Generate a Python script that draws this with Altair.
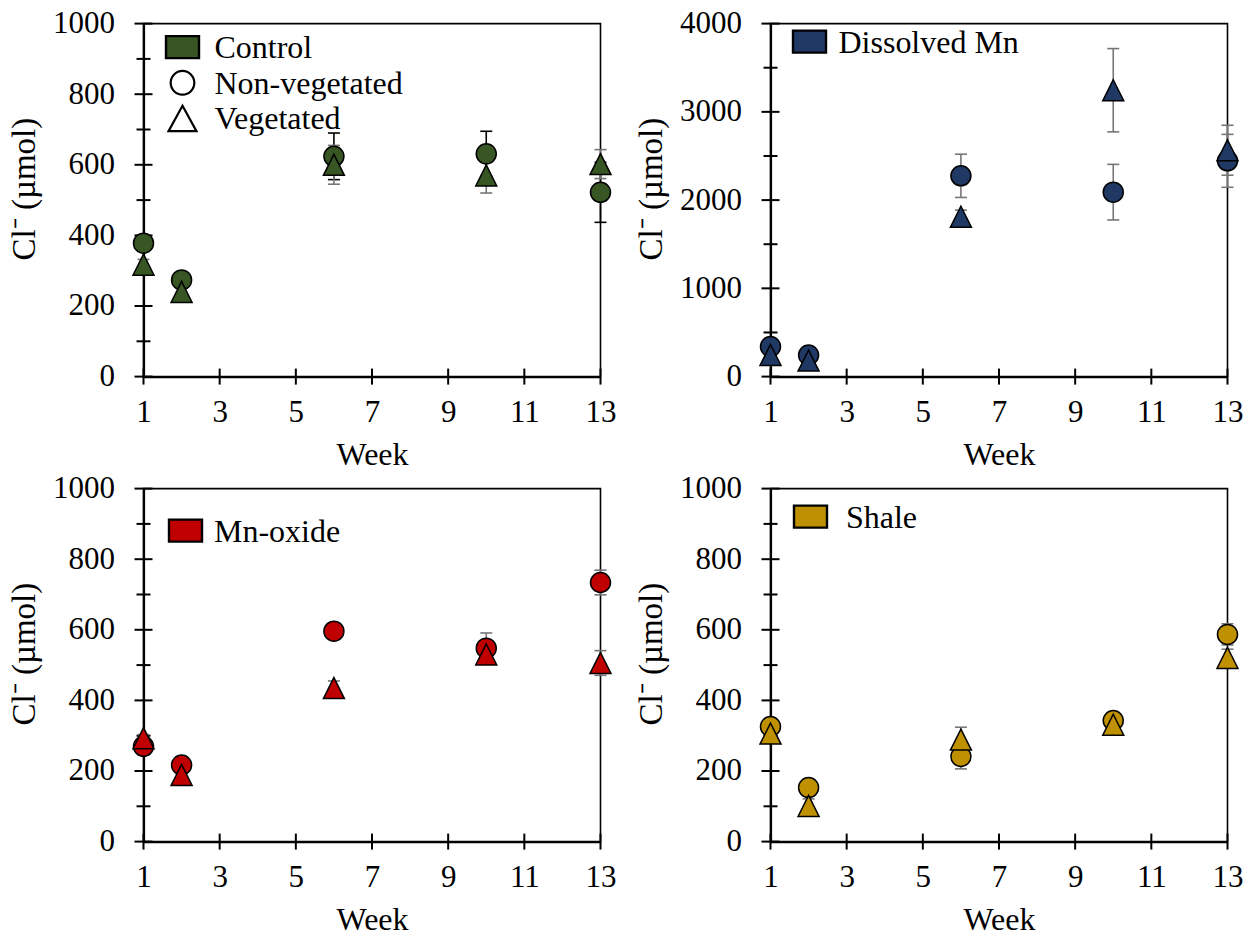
import altair as alt
import pandas as pd

# Sampling weeks
WEEKS = [1, 2, 6, 10, 13]

# Cl- (umol) means and standard deviations per treatment
CONTROL_NONVEG = [378, 274, 624, 631, 522]
CONTROL_NONVEG_SD = [15, 12, 66, 64, 85]
CONTROL_VEG = [317, 240, 600, 570, 602]
CONTROL_VEG_SD = [15, 12, 55, 50, 41]

DISSOLVED_NONVEG = [340, 245, 2275, 2090, 2445]
DISSOLVED_NONVEG_SD = [60, 50, 245, 315, 300]
DISSOLVED_VEG = [245, 181, 1811, 3245, 2565]
DISSOLVED_VEG_SD = [50, 40, 75, 472, 283]

OXIDE_NONVEG = [270, 217, 596, 548, 734]
OXIDE_NONVEG_SD = [10, 10, 12, 43, 35]
OXIDE_VEG = [293, 189, 435, 530, 506]
OXIDE_VEG_SD = [10, 10, 20, 15, 35]

SHALE_NONVEG = [326, 153, 241, 343, 587]
SHALE_NONVEG_SD = [10, 10, 35, 10, 30]
SHALE_VEG = [306, 101, 289, 331, 520]
SHALE_VEG_SD = [10, 20, 35, 10, 25]

# Axis tick values
X_TICKS = [1, 3, 5, 7, 9, 11, 13]
Y_MAJOR_1000 = [0, 200, 400, 600, 800, 1000]
Y_MINOR_1000 = [100, 300, 500, 700, 900]
Y_MAJOR_4000 = [0, 1000, 2000, 3000, 4000]
Y_MINOR_4000 = [500, 1500, 2500, 3500]

# Legend labels
LEGEND_CONTROL = ["Control", "Non-vegetated", "Vegetated"]
LEGEND_DISSOLVED = ["Dissolved Mn"]
LEGEND_OXIDE = ["Mn-oxide"]
LEGEND_SHALE = ["Shale"]

COLORS = {
    "control": "#375623",
    "dissolved": "#1F3864",
    "oxide": "#C00000",
    "shale": "#BF9000",
}

W, H = 457, 353
FONT = "Liberation Serif"
TICK_FS = 31
TEXT_FS = 32
YTITLE_FS = 33
TRIANGLE = "M0,-1L1,1L-1,1Z"
LEG_TRIANGLE = "M0,-1L1.1,1L-1.1,1Z"
LEG_RECT = "M-1.5,-1L1.5,-1L1.5,1L-1.5,1Z"
CAP = "M-1,0L1,0"
GRAY = "#767676"


def make_axes(major):
    x_axis = alt.Axis(
        values=X_TICKS, title="Week", tickSize=0, labelPadding=21,
        labelFlush=False, titlePadding=12, domainWidth=2.2,
        labelFontSize=TICK_FS, titleFontSize=TEXT_FS,
    )
    y_axis = alt.Axis(
        values=major, format="d", title="Cl\u207b (\u00b5mol)", tickSize=0,
        labelPadding=29, titlePadding=11, domainWidth=2.2,
        labelFontSize=TICK_FS, titleFontSize=YTITLE_FS, titleY=165,
    )
    return x_axis, y_axis


def series_layers(values, sds, xs, ys, xa, ya, bar_color):
    df = pd.DataFrame({"week": WEEKS, "v": values, "sd": sds})
    base = alt.Chart(df).transform_calculate(
        lo="datum.v - datum.sd", hi="datum.v + datum.sd"
    )
    bars = base.mark_rule(color=bar_color, strokeWidth=1.6).encode(
        x=alt.X("week:Q", scale=xs, axis=xa),
        y=alt.Y("lo:Q", scale=ys, axis=ya),
        y2="hi:Q",
    )
    caps = base.transform_fold(["lo", "hi"], as_=["end", "ev"]).mark_point(
        shape=CAP, size=144, filled=False, stroke=bar_color, strokeWidth=1.6, opacity=1
    ).encode(
        x=alt.X("week:Q", scale=xs, axis=xa),
        y=alt.Y("ev:Q", scale=ys, axis=ya),
    )
    return df, bars, caps


def legend_layers(labels, kinds, color, sym_x, first_y, step, text_x):
    layers = []
    for i, (label, kind) in enumerate(zip(labels, kinds)):
        y = first_y + i * step
        one = pd.DataFrame({"label": [label]})
        if kind == "rect":
            sym = alt.Chart(one).mark_point(
                shape=LEG_RECT, size=484, filled=True, fill=color,
                stroke="black", strokeWidth=2.4, opacity=1,
            )
        elif kind == "circle":
            sym = alt.Chart(one).mark_point(
                shape="circle", size=560, filled=True, fill="white",
                stroke="black", strokeWidth=2.2, opacity=1,
            )
        else:
            sym = alt.Chart(one).mark_point(
                shape=LEG_TRIANGLE, size=645, filled=True, fill="white",
                stroke="black", strokeWidth=2.2, opacity=1,
            )
        layers.append(sym.encode(x=alt.value(sym_x), y=alt.value(y)))
        layers.append(
            alt.Chart(one)
            .mark_text(align="left", baseline="middle", font=FONT, fontSize=TEXT_FS,
                       color="black")
            .encode(x=alt.value(text_x), y=alt.value(y + 1), text="label:N")
        )
    return layers


def panel(color, nonveg, nonveg_sd, veg, veg_sd, ymax, major, minor,
          legend, nonveg_bar_color=GRAY):
    xs = alt.Scale(domain=[1, 13], nice=False, zero=False)
    ys = alt.Scale(domain=[0, ymax], nice=False, zero=True)
    xa, ya = make_axes(major)

    y_major = alt.Chart(pd.DataFrame({"t": major})).mark_rule(
        color="black", strokeWidth=2
    ).encode(y=alt.Y("t:Q", scale=ys, axis=ya), x=alt.value(-9), x2=alt.value(9))
    y_minor = alt.Chart(pd.DataFrame({"t": minor})).mark_rule(
        color="black", strokeWidth=2
    ).encode(y=alt.Y("t:Q", scale=ys, axis=ya), x=alt.value(-7), x2=alt.value(7))
    x_major = alt.Chart(pd.DataFrame({"t": X_TICKS})).mark_rule(
        color="black", strokeWidth=2
    ).encode(x=alt.X("t:Q", scale=xs, axis=xa), y=alt.value(H - 8), y2=alt.value(H + 8))

    nv_df, nv_bars, nv_caps = series_layers(nonveg, nonveg_sd, xs, ys, xa, ya, nonveg_bar_color)
    vg_df, vg_bars, vg_caps = series_layers(veg, veg_sd, xs, ys, xa, ya, GRAY)

    circles = alt.Chart(nv_df).mark_point(
        shape="circle", size=400, filled=True, fill=color,
        stroke="black", strokeWidth=1.5, opacity=1,
    ).encode(
        x=alt.X("week:Q", scale=xs, axis=xa),
        y=alt.Y("v:Q", scale=ys, axis=ya),
    )
    triangles = alt.Chart(vg_df).mark_point(
        shape=TRIANGLE, size=441, filled=True, fill=color,
        stroke="black", strokeWidth=1.5, opacity=1,
    ).encode(
        x=alt.X("week:Q", scale=xs, axis=xa),
        y=alt.Y("v:Q", scale=ys, axis=ya),
    )

    layers = [y_major, y_minor, x_major, nv_bars, nv_caps, vg_bars, vg_caps,
              circles, triangles] + legend
    return alt.layer(*layers).properties(width=W, height=H)


p1 = panel(
    COLORS["control"], CONTROL_NONVEG, CONTROL_NONVEG_SD, CONTROL_VEG, CONTROL_VEG_SD,
    1000, Y_MAJOR_1000, Y_MINOR_1000,
    legend_layers(LEGEND_CONTROL, ["rect", "circle", "triangle"], COLORS["control"],
                  39, 23.5, 35.7, 71),
    nonveg_bar_color="black",
)
p2 = panel(
    COLORS["dissolved"], DISSOLVED_NONVEG, DISSOLVED_NONVEG_SD, DISSOLVED_VEG, DISSOLVED_VEG_SD,
    4000, Y_MAJOR_4000, Y_MINOR_4000,
    legend_layers(LEGEND_DISSOLVED, ["rect"], COLORS["dissolved"], 39, 18, 0, 68),
)
p3 = panel(
    COLORS["oxide"], OXIDE_NONVEG, OXIDE_NONVEG_SD, OXIDE_VEG, OXIDE_VEG_SD,
    1000, Y_MAJOR_1000, Y_MINOR_1000,
    legend_layers(LEGEND_OXIDE, ["rect"], COLORS["oxide"], 42, 42, 0, 70.5),
)
p4 = panel(
    COLORS["shale"], SHALE_NONVEG, SHALE_NONVEG_SD, SHALE_VEG, SHALE_VEG_SD,
    1000, Y_MAJOR_1000, Y_MINOR_1000,
    legend_layers(LEGEND_SHALE, ["rect"], COLORS["shale"], 40, 28, 0, 75.5),
)

chart = (
    alt.concat(
        p1, p2, p3, p4, columns=2,
        spacing={"row": 112, "column": 170}, bounds="flush",
    )
    .properties(padding={"left": 7.5, "top": 6.6, "right": 0, "bottom": 1},
                background="white")
    .configure_view(stroke="black", strokeWidth=1.6)
    .configure_axis(
        labelFont=FONT, titleFont=FONT,
        titleFontWeight="normal", labelColor="black", titleColor="black",
        domainColor="black", grid=False, labelOverlap=False,
    )
)

chart.save("out.html", embed_options={"renderer": "svg", "actions": False})
